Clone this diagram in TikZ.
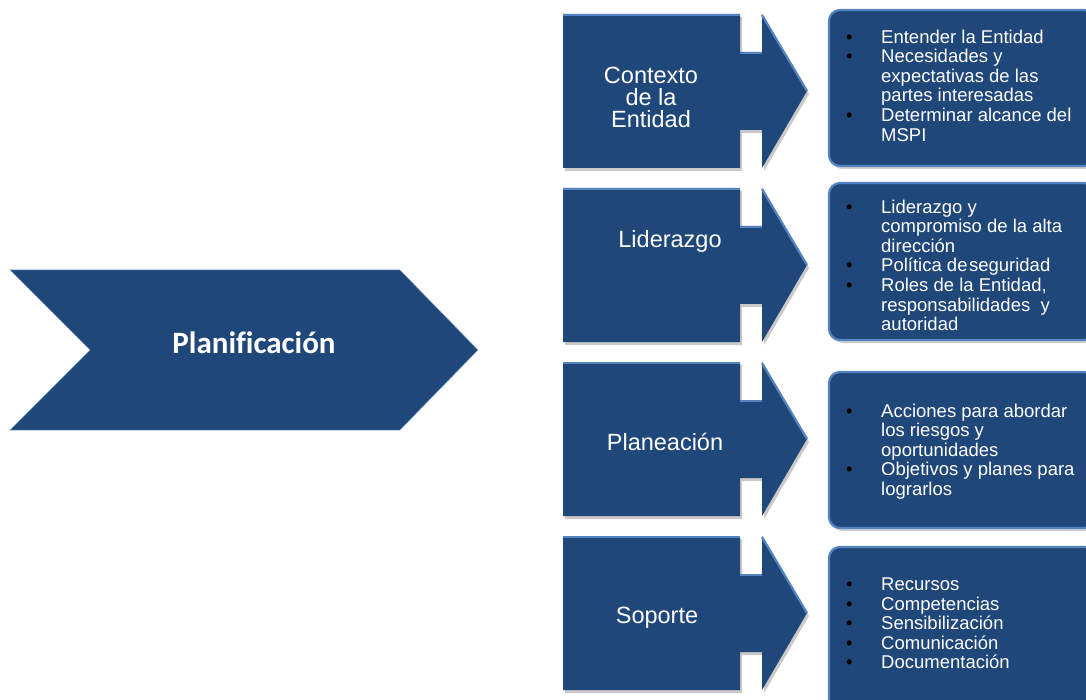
\documentclass[tikz,border=0pt]{standalone}
\usepackage{fontspec}
\setmainfont{Liberation Sans}
\newfontfamily\carl[Ligatures=NoCommon]{Carlito}
\usetikzlibrary{shadows}
\definecolor{darkfill}{RGB}{32,71,122}
\definecolor{lightedge}{RGB}{84,132,192}
\tikzset{
  calloutshape/.style={fill=darkfill, drop shadow={shadow xshift=2pt, shadow yshift=-3pt, opacity=0.35, fill=black!60}},
  topedge/.style={draw=lightedge, line width=2.2pt, line join=miter},
  calloutlabel/.style={text=white, font=\fontsize{23.5}{22}\selectfont, align=center, inner sep=0pt},
  listbox/.style={fill=darkfill, draw=lightedge, line width=2.2pt, rounded corners=11pt, drop shadow={shadow xshift=2pt, shadow yshift=-3pt, opacity=0.3, fill=black!60}},
  listtext/.style={text=white, font=\fontsize{18.5}{19.6}\selectfont, align=left, anchor=north west, inner sep=0pt},
  chevronshape/.style={fill=darkfill, draw=lightedge!70!white, line width=0.5pt},
  chevronlabel/.style={text=white, font=\carl\bfseries\fontsize{31}{34}\selectfont, inner sep=0pt}
}
\newcommand{\bul}{\makebox[35pt][l]{\textcolor{black}{\textbullet}}}
\newcommand{\ind}{\hspace*{35pt}}
\newcommand{\calloutat}[1]{%
  \path[calloutshape] (563,#1) -- (740,#1) -- (740,#1+38) -- (762,#1+38) -- (762,#1) -- (807,#1+77) -- (762,#1+154) -- (762,#1+116) -- (740,#1+116) -- (740,#1+154) -- (563,#1+154) -- cycle;
  \draw[topedge] (563,#1+1) -- (740,#1+1);
  \draw[topedge] (740,#1+39) -- (762,#1+39);
  \draw[topedge] (762,#1+1) -- (807,#1+77);
}
\begin{document}
\begin{tikzpicture}[x=1pt,y=-1pt]
\clip (0,0) rectangle (1086,700);
\fill[white] (0,0) rectangle (1086,700);

% chevron
\path[chevronshape] (10,270) -- (400,270) -- (478,350) -- (400,430) -- (10,430) -- (90,350) -- cycle;
\node[chevronlabel] (plan) at (254,343) {Planificación};

% callouts
\calloutat{14}
\calloutat{188}
\calloutat{362}
\calloutat{536}
\node[calloutlabel] (ctx) at (651,97) {Contexto\\de la\\Entidad};
\node[calloutlabel] (lid) at (670,241) {Liderazgo};
\node[calloutlabel] (pla) at (665,442) {Planeación};
\node[calloutlabel] (sop) at (657,618) {Soporte};

% list boxes
\path[listbox] (829,10) rectangle (1095,166);
\path[listbox] (829,183) rectangle (1095,340);
\path[listbox] (829,372) rectangle (1095,528);
\path[listbox] (829,547) rectangle (1095,715);

\node[listtext] (l1) at (846,29.5) {\bul Entender la Entidad\\ \bul Necesidades y\\ \ind expectativas de las\\ \ind partes interesadas\\ \bul Determinar alcance del\\ \ind MSPI};
\node[listtext] (l2) at (846,199.5) {\bul Liderazgo y\\ \ind compromiso de la alta\\ \ind dirección\\ \bul Política de\hspace{1.5pt}seguridad\\ \bul Roles de la Entidad,\\ \ind responsabilidades~ y\\ \ind autoridad};
\node[listtext] (l3) at (846,403.5) {\bul Acciones para abordar\\ \ind los riesgos y\\ \ind oportunidades\\ \bul Objetivos y planes para\\ \ind lograrlos};
\node[listtext] (l4) at (846,577.5) {\bul Recursos\\ \bul Competencias\\ \bul Sensibilización\\ \bul Comunicación\\ \bul Documentación};
\end{tikzpicture}
\end{document}
